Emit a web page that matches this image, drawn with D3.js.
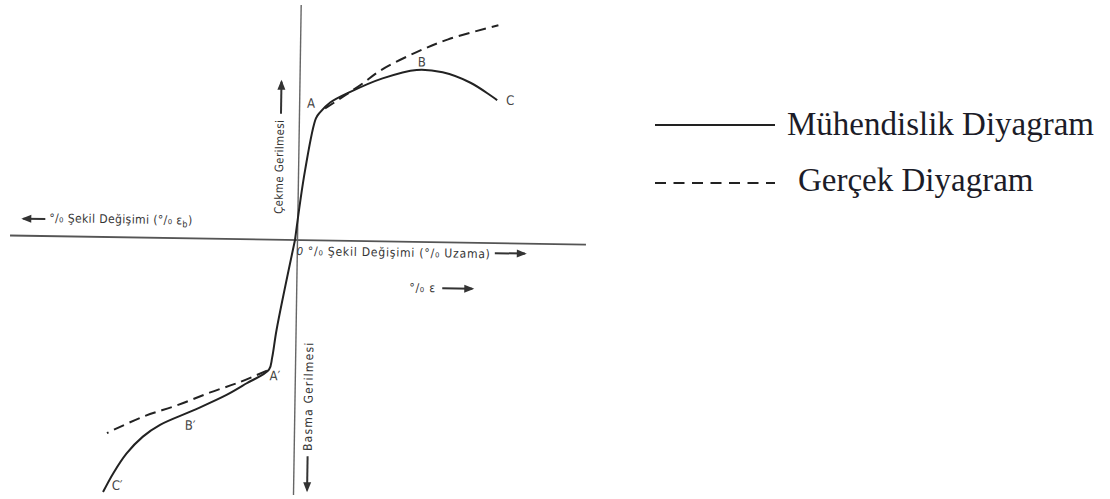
<!DOCTYPE html>
<html>
<head>
<meta charset="utf-8">
<script src="https://cdn.jsdelivr.net/npm/d3@7"></script>
<style>
  body { margin: 0; background: #fff; }
  svg { display: block; }
</style>
</head>
<body>
<div id="chart"></div>
<script>
// values, in strain / stress units (origin = 0,0)
const tensionEng = [[0, 0], [0.9, 7.0], [1.9, 12.2], [2.3, 12.8], [3.3, 13.8], [5.3, 14.9], [8.5, 16.3], [11.9, 17.2], [14.5, 17.0], [17.3, 16.0], [20.0, 14.3]];
const tensionTrue = [[2.8, 13.2], [6.3, 15.6], [8.3, 17.1], [11.7, 18.9], [15.0, 20.3], [20.0, 21.8]];
const compressionEng = [[0, 0], [-1.7, -9.0], [-2.1, -11.8], [-2.4, -13.0], [-4.6, -14.4], [-6.6, -15.6], [-9.9, -17.2], [-13.2, -18.7], [-14.9, -19.9], [-16.5, -21.6], [-17.8, -23.6], [-18.8, -25.5]];
const compressionTrue = [[-2.6, -13.1], [-5.3, -14.3], [-8.3, -15.4], [-11.5, -16.7], [-14.9, -17.9], [-18.5, -19.6]];
const pointLabels = [["A", 1.4, 13.7], ["B", 12.4, 18.0], ["C", 21.3, 14.3], ["A\u2032", -1.8, -13.6], ["B\u2032", -10.2, -18.7], ["C\u2032", -17.4, -24.8]];
const legendItems = ["Mühendislik Diyagram", "Gerçek Diyagram"];

const width = 1110, height = 499;
const svg = d3.select("#chart").append("svg")
    .attr("width", width)
    .attr("height", height);

svg.append("defs").append("marker")
    .attr("id", "arr")
    .attr("viewBox", "0 0 10 10")
    .attr("refX", 8).attr("refY", 5)
    .attr("markerWidth", 7).attr("markerHeight", 5)
    .attr("orient", "auto")
    .append("path")
    .attr("d", "M0,1L10,5L0,9Z")
    .attr("fill", "#333");

const x = d3.scaleLinear().domain([-28.5, 29.1]).range([10, 586]);
const y = d3.scaleLinear().domain([-25.5, 23.5]).range([495, 5]);

// the scan is tilted a little, so the whole figure is turned about the origin
const g = svg.append("g")
    .attr("transform", `rotate(0.9,${x(0)},${y(0)})`);

// axes
g.append("line")
    .attr("x1", x(-28.5)).attr("x2", x(29.1))
    .attr("y1", y(0)).attr("y2", y(0))
    .attr("stroke", "#555").attr("stroke-width", 1.8);
g.append("line")
    .attr("x1", x(0.25)).attr("x2", x(0.25))
    .attr("y1", y(23.5)).attr("y2", y(-25.5))
    .attr("stroke", "#666").attr("stroke-width", 1.4);

const line = d3.line()
    .x(d => x(d[0]))
    .y(d => y(d[1]))
    .curve(d3.curveCatmullRom.alpha(0.5));

[tensionEng, compressionEng].forEach(s => {
    g.append("path")
        .attr("d", line(s))
        .attr("fill", "none")
        .attr("stroke", "#222")
        .attr("stroke-width", 2)
        .attr("stroke-linejoin", "round");
});
[tensionTrue, compressionTrue].forEach(s => {
    g.append("path")
        .attr("d", line(s))
        .attr("fill", "none")
        .attr("stroke", "#222")
        .attr("stroke-width", 2)
        .attr("stroke-dasharray", "11,6");
});

const font = "'DejaVu Sans Condensed', 'Liberation Sans Narrow', sans-serif";

g.selectAll(".pl")
    .data(pointLabels)
    .join("text")
    .attr("class", "pl")
    .attr("x", d => x(d[1]))
    .attr("y", d => y(d[2]))
    .attr("dy", "0.35em")
    .attr("text-anchor", "middle")
    .attr("font-family", font)
    .attr("font-size", 13)
    .attr("fill", "#444")
    .text(d => d[0]);

// axis titles
const t = (px, py, txt, size, ls, rot) => {
    const el = g.append("text")
        .attr("x", px).attr("y", py)
        .attr("font-family", font)
        .attr("font-size", size)
        .attr("letter-spacing", ls)
        .attr("fill", "#333")
        .text(txt);
    if (rot) el.attr("text-anchor", "middle").attr("transform", `rotate(${rot},${px},${py})`);
    return el;
};
const arrow = (x1, y1, x2, y2) => g.append("line")
    .attr("x1", x1).attr("y1", y1).attr("x2", x2).attr("y2", y2)
    .attr("stroke", "#333").attr("stroke-width", 2)
    .attr("marker-end", "url(#arr)");

const left = t(x(-24.6), y(1.4), "°/₀ Şekil Değişimi (°/₀ ε", 12, 0.4);
left.append("tspan").attr("font-size", 9).attr("dy", 3).text("b");
left.append("tspan").attr("dy", -3).text(")");
arrow(x(-25.0), y(1.7), x(-27.2), y(1.7));

t(x(0.2), y(-1.5), "0", 11, 0).attr("font-style", "italic");
t(x(1.3), y(-1.5), "°/₀ Şekil Değişimi (°/₀ Uzama)", 12, 0.8);
arrow(x(20.0), y(-1.0), x(23.0), y(-1.0));
t(x(11.5), y(-5.0), "°/₀ ε", 12, 0.8);
arrow(x(14.8), y(-4.6), x(17.8), y(-4.6));

t(x(-1.3), y(7.3), "Çekme Gerilmesi", 11.5, 0.4, -90);
arrow(x(-1.6), y(12.6), x(-1.6), y(15.8));
t(x(2.0), y(-15.6), "Basma Gerilmesi", 12, 1.2, -90);
arrow(x(1.6), y(-21.6), x(1.6), y(-25.0));

// legend
const lg = svg.append("g").attr("transform", "translate(655,0)");
lg.selectAll("line")
    .data(legendItems)
    .join("line")
    .attr("x1", 0).attr("x2", 120)
    .attr("y1", (d, i) => 125 + i * 58)
    .attr("y2", (d, i) => 125 + i * 58)
    .attr("stroke", "#222")
    .attr("stroke-width", 2)
    .attr("stroke-dasharray", (d, i) => i ? "11,7.5" : null);
lg.selectAll("text")
    .data(legendItems)
    .join("text")
    .attr("x", (d, i) => i ? 143 : 132)
    .attr("y", (d, i) => 135 + i * 56)
    .attr("font-family", "'Liberation Serif', 'Times New Roman', serif")
    .attr("font-size", 33)
    .attr("fill", "#1c1c28")
    .text(d => d);
</script>
</body>
</html>
